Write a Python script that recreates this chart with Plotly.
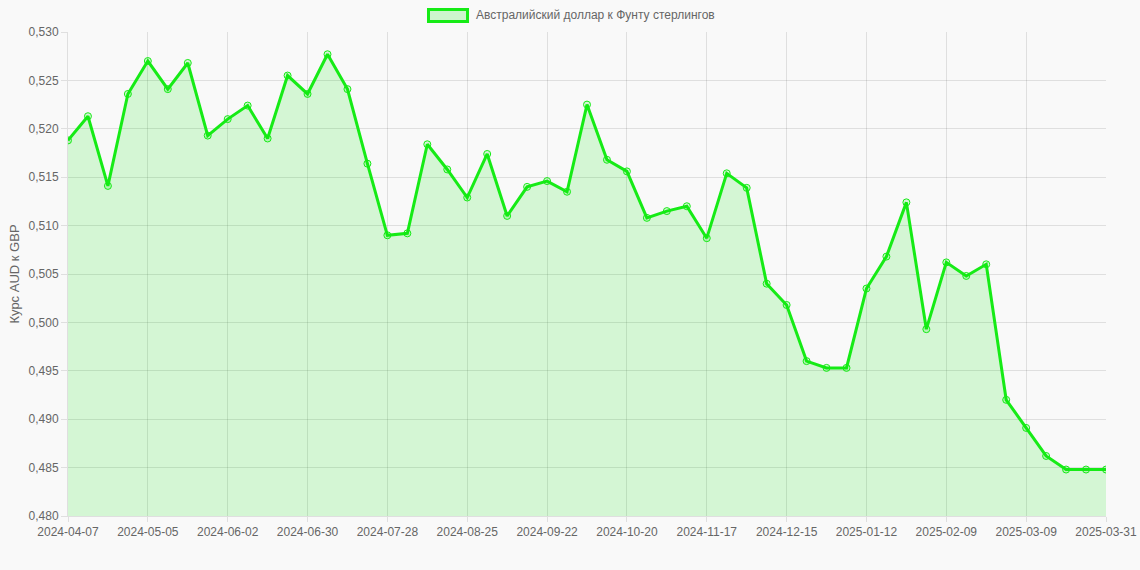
import plotly.graph_objects as go

dates = [
    "2024-04-07", "2024-04-14", "2024-04-21", "2024-04-28", "2024-05-05", "2024-05-12",
    "2024-05-19", "2024-05-26", "2024-06-02", "2024-06-09", "2024-06-16", "2024-06-23",
    "2024-06-30", "2024-07-07", "2024-07-14", "2024-07-21", "2024-07-28", "2024-08-04",
    "2024-08-11", "2024-08-18", "2024-08-25", "2024-09-01", "2024-09-08", "2024-09-15",
    "2024-09-22", "2024-09-29", "2024-10-06", "2024-10-13", "2024-10-20", "2024-10-27",
    "2024-11-03", "2024-11-10", "2024-11-17", "2024-11-24", "2024-12-01", "2024-12-08",
    "2024-12-15", "2024-12-22", "2024-12-29", "2025-01-05", "2025-01-12", "2025-01-19",
    "2025-01-26", "2025-02-02", "2025-02-09", "2025-02-16", "2025-02-23", "2025-03-02",
    "2025-03-09", "2025-03-16", "2025-03-23", "2025-03-30", "2025-03-31",
]

aud_gbp = [
    0.5188, 0.5213, 0.5141, 0.5236, 0.5270, 0.5241, 0.5268, 0.5193, 0.5210, 0.5224,
    0.5190, 0.5255, 0.5236, 0.5277, 0.5241, 0.5164, 0.5090, 0.5092, 0.5184, 0.5158,
    0.5129, 0.5174, 0.5110, 0.5140, 0.5146, 0.5135, 0.5225, 0.5168, 0.5156, 0.5108,
    0.5115, 0.5120, 0.5087, 0.5154, 0.5139, 0.5040, 0.5018, 0.4960, 0.4953, 0.4953,
    0.5035, 0.5068, 0.5124, 0.4993, 0.5062, 0.5048, 0.5060, 0.4920, 0.4891, 0.4862,
    0.4848, 0.4848, 0.4848,
]

# подписи оси X как в исходнике: каждая 4-я неделя + последняя дата
x_ticks = dates[::4] + [dates[-1]]

series_name = "Австралийский доллар к Фунту стерлингов"
green = "rgb(22,235,22)"
fill = "rgba(0,230,0,0.15)"
grid = "rgba(0,0,0,0.1)"
txt = "#666666"
bg = "#f9f9f9"

fig = go.Figure()
fig.add_trace(go.Scatter(
    x=dates,
    y=aud_gbp,
    mode="lines+markers",
    name=series_name,
    line=dict(color=green, width=3),
    marker=dict(size=7, color=fill, line=dict(color=green, width=1)),
    fill="tozeroy",
    fillcolor=fill,
))

# легенда вручную (plotly-легенда сдвигает поля): прямоугольник + подпись
fig.add_shape(
    type="rect", xref="paper", yref="paper",
    x0=0.3473, x1=0.3849, y0=1.0217, y1=1.0465,
    fillcolor="rgba(0,230,0,0.18)", line=dict(color=green, width=3),
)
fig.add_annotation(
    text=series_name, xref="paper", yref="paper",
    x=0.3911, y=1.0351, xanchor="left", yanchor="middle",
    showarrow=False, font=dict(size=12, color=txt),
)

fig.update_layout(
    width=1140,
    height=570,
    paper_bgcolor=bg,
    plot_bgcolor=bg,
    separators=", ",
    font=dict(family="Liberation Sans, Arial, sans-serif", size=12, color=txt),
    margin=dict(l=68, r=34, t=32, b=54),
    showlegend=False,
)

fig.update_xaxes(
    type="category",
    range=[0, len(dates) - 1],
    tickmode="array",
    tickvals=x_ticks,
    ticktext=x_ticks,
    tickangle=0,
    automargin=False,
    showgrid=True,
    gridcolor=grid,
    gridwidth=1,
    showline=True,
    linecolor=grid,
    ticks="outside",
    ticklen=5,
    tickcolor=grid,
    zeroline=False,
    tickfont=dict(size=12, color=txt),
)

fig.update_yaxes(
    range=[0.480, 0.530],
    dtick=0.005,
    tick0=0.48,
    tickformat=".3f",
    automargin=False,
    showgrid=True,
    gridcolor=grid,
    gridwidth=1,
    showline=True,
    linecolor=grid,
    ticks="outside",
    ticklen=6,
    tickcolor=grid,
    zeroline=False,
    title=dict(text="Курс AUD к GBP", font=dict(size=13, color=txt), standoff=6),
    tickfont=dict(size=12, color=txt),
)

fig.write_html(
    "out.html",
    config={"displayModeBar": False},
    post_script="document.body.style.margin='0';document.body.style.background='#f9f9f9';",
)
